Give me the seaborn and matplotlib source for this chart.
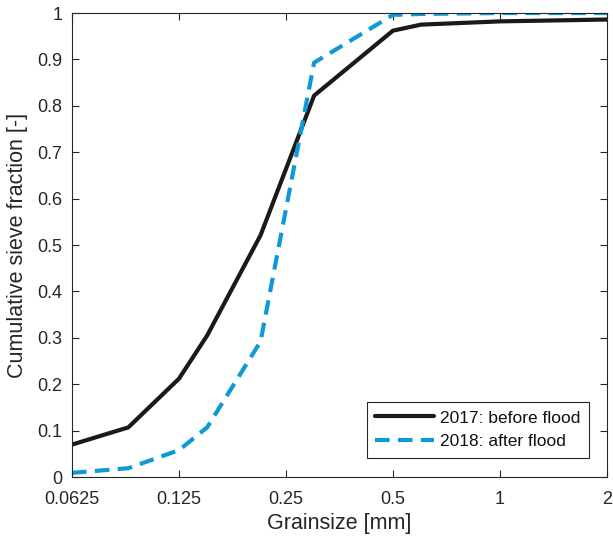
import numpy as np
import pandas as pd
import seaborn as sns
import matplotlib.pyplot as plt
from matplotlib.ticker import FixedLocator, FixedFormatter, NullLocator

# sieve sizes [mm] and cumulative fractions
grainsize = [0.0625, 0.09, 0.125, 0.15, 0.212, 0.3, 0.5, 0.6, 1.0, 2.0]
before_2017 = [0.070, 0.107, 0.212, 0.305, 0.521, 0.822, 0.962, 0.975, 0.982, 0.986]
after_2018 = [0.009, 0.019, 0.058, 0.107, 0.292, 0.893, 0.996, 0.998, 1.0, 1.0]
xticks = [0.0625, 0.125, 0.25, 0.5, 1, 2]
xtick_labels = ['0.0625', '0.125', '0.25', '0.5', '1', '2']

df = pd.DataFrame({
    'Grainsize': grainsize * 2,
    'fraction': before_2017 + after_2018,
    'year': ['2017: before flood'] * len(grainsize) + ['2018: after flood'] * len(grainsize),
})

sns.set_style('ticks')
plt.rcParams['font.family'] = ['Liberation Sans', 'DejaVu Sans']
txt = '#262626'

fig = plt.figure(figsize=(6.13, 5.36), dpi=100)
ax = fig.add_axes([0.1175, 0.110, 0.8725, 0.8657])
sns.lineplot(data=df, x='Grainsize', y='fraction', hue='year', style='year',
             palette=['#1a1a1a', '#0e9ad7'], dashes=[(None, None), (3.5, 2)],
             linewidth=3, ax=ax, sort=False)

ax.set_xscale('log', base=2)
ax.set_xlim(0.0625, 2)
ax.set_ylim(0, 1)
ax.xaxis.set_major_locator(FixedLocator(xticks))
ax.xaxis.set_major_formatter(FixedFormatter(xtick_labels))
ax.xaxis.set_minor_locator(NullLocator())
ax.set_yticks(np.round(np.arange(0, 1.01, 0.1), 1))
ax.set_yticklabels(['0'] + ['%.1f' % v for v in np.arange(0.1, 0.95, 0.1)] + ['1'])

ax.tick_params(direction='in', length=5, width=0.8, top=True, right=True,
               labelsize=13, colors='#262626', labelcolor=txt)
ax.tick_params(axis='x', pad=10)
ax.tick_params(axis='y', pad=7)
for s in ax.spines.values():
    s.set_color('#262626')
    s.set_linewidth(0.8)

ax.set_xlabel('Grainsize [mm]', fontsize=15.5, color=txt)
ax.set_ylabel('Cumulative sieve fraction [-]', fontsize=15.5, color=txt)
ax.xaxis.set_label_coords(0.5, -0.077)
ax.yaxis.set_label_coords(-0.082, 0.5)

leg = ax.legend(loc='lower right', bbox_to_anchor=(0.966, 0.041), borderaxespad=0,
                fontsize=12.5, handlelength=3.4, handletextpad=0.3, borderpad=0.5,
                labelspacing=0.5, fancybox=False, framealpha=1, edgecolor='#262626')
leg.get_frame().set_linewidth(0.8)
for t in leg.get_texts():
    t.set_color('#111111')

fig.savefig('out.png', dpi=100)
